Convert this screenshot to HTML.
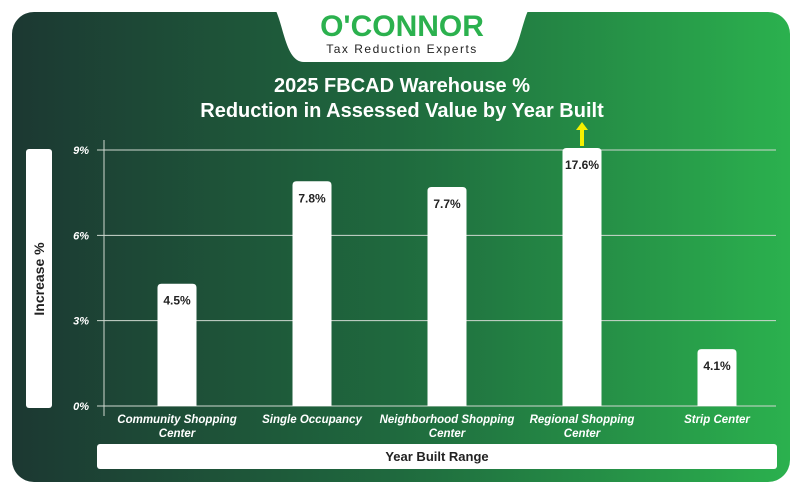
<!DOCTYPE html>
<html><head><meta charset="utf-8"><style>
html,body{margin:0;padding:0;width:803px;height:494px;overflow:hidden;background:#fff;font-family:"Liberation Sans",sans-serif}
</style></head><body>
<svg id="chart" width="803" height="494" viewBox="0 0 803 494" xmlns="http://www.w3.org/2000/svg">
<defs>
<linearGradient id="bg" x1="0" x2="1" y1="0" y2="0">
<stop offset="0" stop-color="#1c3832"/><stop offset="0.5" stop-color="#1f6a3e"/><stop offset="1" stop-color="#2bb14e"/>
</linearGradient>
</defs>
<rect x="12" y="12" width="778" height="470" rx="22" fill="url(#bg)"/>
<path d="M268 0 H536 C520 10 522 62 500 62 H304 C282 62 284 10 268 0 Z" fill="#fff"/>
<text x="402" y="36" text-anchor="middle" font-size="30" font-weight="bold" fill="#2bb14e">O'CONNOR</text>
<text x="402" y="53" text-anchor="middle" font-size="12" letter-spacing="1.5" fill="#222">Tax Reduction Experts</text>
<text x="402" y="92" text-anchor="middle" font-size="20" font-weight="bold" fill="#fff">2025 FBCAD Warehouse %</text>
<text x="402" y="117" text-anchor="middle" font-size="20" font-weight="bold" fill="#fff">Reduction in Assessed Value by Year Built</text>
<rect x="26" y="149" width="26" height="259" rx="3" fill="#fff"/>
<text transform="translate(44,279) rotate(-90)" text-anchor="middle" font-size="14" font-weight="bold" fill="#222">Increase %</text>
<rect x="97" y="444" width="680" height="25" rx="3" fill="#fff"/>
<text x="437" y="461" text-anchor="middle" font-size="13" font-weight="bold" fill="#222">Year Built Range</text>
<line x1="104" y1="140" x2="104" y2="416" stroke="#cfd8d0" stroke-width="1"/>
<g id="grid"></g><g id="bars"></g>
</svg>
<script>
const categories=[["Community Shopping","Center"],["Single Occupancy"],["Neighborhood Shopping","Center"],["Regional Shopping","Center"],["Strip Center"]];
const values=[4.3,7.9,7.7,17.6,2.0];
const valueLabels=["4.5%","7.8%","7.7%","17.6%","4.1%"];
const yTicks=[0,3,6,9];
const yTickLabels=["0%","3%","6%","9%"];
const NS="http://www.w3.org/2000/svg";
const yMax=9, y0=406, y1=150;
function yScale(v){return y0-(Math.min(v,yMax)/yMax)*(y0-y1);}
function xScale(i){return 177+i*135;}
function mk(t,a,p){const e=document.createElementNS(NS,t);for(const k in a)e.setAttribute(k,a[k]);p.appendChild(e);return e;}
const grid=document.getElementById('grid'), bars=document.getElementById('bars');
yTicks.forEach((t,i)=>{
 const y=yScale(t);
 const l=mk('line',{x1:97,x2:776,y1:y,y2:y,stroke:'#cfd8d0','stroke-width':1},grid);
 
 
 const tx=mk('text',{x:89,y:y+4,'text-anchor':'end','font-size':11,'font-weight':'bold','font-style':'italic',fill:'#fff'},grid);
 tx.textContent=yTickLabels[i];
 
 
});
values.forEach((v,i)=>{
 const cx=xScale(i), w=39, top=yScale(v)-(v>yMax?2:0);
 const b=mk('path',{d:`M${cx-w/2} ${y0} V${top+4} Q${cx-w/2} ${top} ${cx-w/2+4} ${top} H${cx+w/2-4} Q${cx+w/2} ${top} ${cx+w/2} ${top+4} V${y0} Z`,fill:'#fff'},bars);
 
 
 const t=mk('text',{x:cx,y:top+21,'text-anchor':'middle','font-size':12,'font-weight':'bold',fill:'#222'},bars);
 t.textContent=valueLabels[i];
 
 
 if(v>yMax){
  const a=mk('path',{d:`M${cx-2} ${top-2} V${top-18} H${cx-6} L${cx} ${top-26} L${cx+6} ${top-18} H${cx+2} V${top-2} Z`,fill:'#f5f000'},bars);
  
  
 }
 categories[i].forEach((line,j)=>{
  const c=mk('text',{x:cx,y:423+j*14,'text-anchor':'middle','font-size':11.5,'font-weight':'bold','font-style':'italic',fill:'#fff'},bars);
  c.textContent=line;
  
  
 });
});
</script>
</body></html>
